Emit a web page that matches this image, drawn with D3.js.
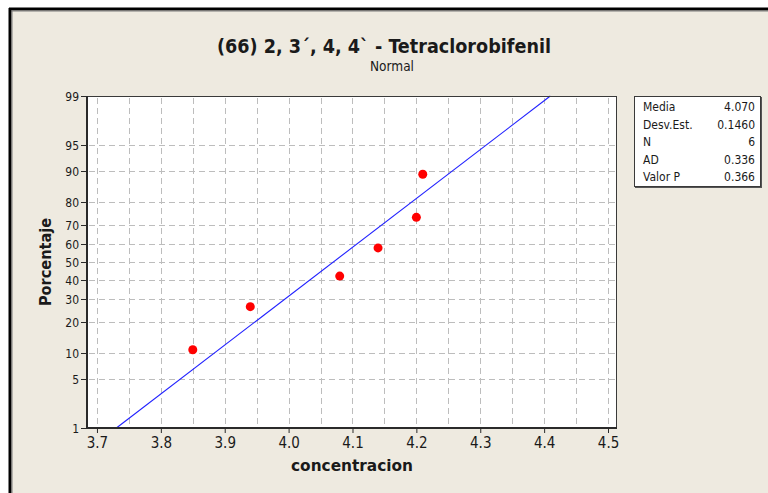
<!DOCTYPE html>
<html>
<head>
<meta charset="utf-8">
<script src="https://cdn.jsdelivr.net/npm/d3@7"></script>
<style>
  html, body { margin: 0; padding: 0; background: #ffffff; }
  svg { display: block; }
  text { font-family: "DejaVu Sans Condensed", Tahoma, "DejaVu Sans", sans-serif; fill: #1a1a1a; }
</style>
</head>
<body>
<svg id="chart" width="768" height="493"></svg>
<script>
// Observed concentrations (sorted)
const concentracion = [3.85, 3.94, 4.08, 4.14, 4.20, 4.21];

// Summary statistics shown in the side table
const statLabels = ["Media", "Desv.Est.", "N", "AD", "Valor P"];
const statValues = ["4.070", "0.1460", "6", "0.336", "0.366"];
const media = 4.070;
const desvEst = 0.1460;

// Axis tick values
const xTicks = [3.7, 3.8, 3.9, 4.0, 4.1, 4.2, 4.3, 4.4, 4.5];
const xGrid = [3.70, 3.75, 3.80, 3.85, 3.90, 3.95, 4.00, 4.05, 4.10, 4.15, 4.20, 4.25, 4.30, 4.35, 4.40, 4.45, 4.50];
const yTicks = [1, 5, 10, 20, 30, 40, 50, 60, 70, 80, 90, 95, 99];

// Inverse standard normal CDF (Acklam's rational approximation)
function probit(p) {
  const a = [-3.969683028665376e+01, 2.209460984245205e+02, -2.759285104469687e+02, 1.383577518672690e+02, -3.066479806614716e+01, 2.506628277459239e+00];
  const b = [-5.447609879822406e+01, 1.615858368580409e+02, -1.556989798598866e+02, 6.680131188771972e+01, -1.328068155288572e+01];
  const c = [-7.784894002430293e-03, -3.223964580411365e-01, -2.400758277161838e+00, -2.549732539343734e+00, 4.374664141464968e+00, 2.938163982698783e+00];
  const d = [7.784695709041462e-03, 3.224671290700398e-01, 2.445134137142996e+00, 3.754408661907416e+00];
  const pl = 0.02425, ph = 1 - pl;
  let q, r;
  if (p < pl) {
    q = Math.sqrt(-2 * Math.log(p));
    return (((((c[0]*q+c[1])*q+c[2])*q+c[3])*q+c[4])*q+c[5]) / ((((d[0]*q+d[1])*q+d[2])*q+d[3])*q+1);
  } else if (p <= ph) {
    q = p - 0.5; r = q * q;
    return (((((a[0]*r+a[1])*r+a[2])*r+a[3])*r+a[4])*r+a[5])*q / (((((b[0]*r+b[1])*r+b[2])*r+b[3])*r+b[4])*r+1);
  } else {
    q = Math.sqrt(-2 * Math.log(1 - p));
    return -(((((c[0]*q+c[1])*q+c[2])*q+c[3])*q+c[4])*q+c[5]) / ((((d[0]*q+d[1])*q+d[2])*q+d[3])*q+1);
  }
}

const svg = d3.select("#chart");
const W = 768, H = 493;

// Panel background and frame
svg.append("rect").attr("x", 0).attr("y", 0).attr("width", W).attr("height", H).attr("fill", "#ffffff");
svg.append("rect").attr("x", 10).attr("y", 9).attr("width", W - 10).attr("height", H - 9).attr("fill", "#EEEAE0");
svg.append("line").attr("x1", 9).attr("x2", W).attr("y1", 9).attr("y2", 9).attr("stroke", "#000").attr("stroke-width", 3);
svg.append("line").attr("x1", 10).attr("x2", W).attr("y1", 11).attr("y2", 11).attr("stroke", "#7a7a7a").attr("stroke-width", 1);
svg.append("line").attr("x1", 10).attr("x2", 10).attr("y1", 8).attr("y2", H).attr("stroke", "#000").attr("stroke-width", 3);
svg.append("line").attr("x1", 12).attr("x2", 12).attr("y1", 10).attr("y2", H).attr("stroke", "#7a7a7a").attr("stroke-width", 1);

// Plot area
const pLeft = 87, pRight = 616, pTop = 96, pBottom = 428;
const x = d3.scaleLinear().domain([3.6844, 4.5125]).range([pLeft, pRight]);
const zScale = d3.scaleLinear().domain([probit(0.01), probit(0.99)]).range([pBottom, pTop]);
const y = p => zScale(probit(p / 100));

svg.append("rect").attr("x", pLeft).attr("y", pTop).attr("width", pRight - pLeft).attr("height", pBottom - pTop).attr("fill", "#ffffff");

// Dashed grid
const grid = svg.append("g").attr("stroke", "#BDBDBD").attr("stroke-width", 1).attr("stroke-dasharray", "6,4");
grid.selectAll("line.v").data(xGrid).join("line")
  .attr("class", "v")
  .attr("x1", d => Math.round(x(d)) + 0.5).attr("x2", d => Math.round(x(d)) + 0.5)
  .attr("y1", pTop + 2).attr("y2", pBottom);
grid.selectAll("line.h").data(yTicks.filter(d => d > 1 && d < 99)).join("line")
  .attr("class", "h")
  .attr("x1", pLeft + 2).attr("x2", pRight)
  .attr("y1", d => Math.round(y(d)) + 0.5).attr("y2", d => Math.round(y(d)) + 0.5);

// Fitted normal line from mean and standard deviation
const pLine = [1, 99];
const line = d3.line().x(p => x(media + probit(p / 100) * desvEst)).y(p => y(p));
svg.append("path").datum(pLine).attr("d", line)
  .attr("fill", "none").attr("stroke", "#2020ff").attr("stroke-width", 1.1);

// Points at median-rank percentages
const n = concentracion.length;
const pts = concentracion.map((v, i) => ({ v, p: 100 * (i + 1 - 0.3) / (n + 0.4) }));
svg.append("g").selectAll("circle").data(pts).join("circle")
  .attr("cx", d => x(d.v)).attr("cy", d => y(d.p)).attr("r", 4.5)
  .attr("fill", "#ff0000");

// Plot border
svg.append("rect").attr("x", pLeft + 0.5).attr("y", pTop + 0.5).attr("width", pRight - pLeft).attr("height", pBottom - pTop)
  .attr("fill", "none").attr("stroke", "#3a3a3a").attr("stroke-width", 1);
svg.append("line").attr("x1", pLeft).attr("x2", pLeft).attr("y1", pTop).attr("y2", pBottom + 1).attr("stroke", "#2a2a2a").attr("stroke-width", 2);
svg.append("line").attr("x1", pLeft).attr("x2", pRight + 1).attr("y1", pBottom).attr("y2", pBottom).attr("stroke", "#2a2a2a").attr("stroke-width", 2);

// X axis
const xAxis = d3.axisBottom(x).tickValues(xTicks).tickFormat(d3.format(".1f")).tickSize(5).tickPadding(4);
const gx = svg.append("g").attr("transform", `translate(0,${pBottom})`).call(xAxis);
gx.select(".domain").remove();
gx.selectAll(".tick line").attr("stroke", "#2a2a2a");
gx.selectAll(".tick text").attr("font-size", 15).attr("fill", "#1a1a1a")
  .style("font-family", "'DejaVu Sans Condensed', Tahoma, sans-serif");

// Y axis on the normal probability scale
const gy = svg.append("g");
const yt = gy.selectAll("g").data(yTicks).join("g").attr("transform", d => `translate(0,${Math.round(y(d)) + 0.5})`);
yt.append("line").attr("x1", pLeft - 6).attr("x2", pLeft).attr("stroke", "#2a2a2a");
yt.append("text").attr("x", pLeft - 8).attr("dy", "0.35em").attr("text-anchor", "end")
  .attr("font-size", 12).text(d => d);

// Titles
svg.append("text").attr("x", 384).attr("y", 53).attr("text-anchor", "middle")
  .attr("font-size", 20).attr("font-weight", "bold")
  .attr("textLength", 334).attr("lengthAdjust", "spacingAndGlyphs")
  .text("(66) 2, 3´, 4, 4` - Tetraclorobifenil");
svg.append("text").attr("x", 392).attr("y", 71).attr("text-anchor", "middle")
  .attr("font-size", 14).attr("textLength", 44).attr("lengthAdjust", "spacingAndGlyphs").text("Normal");

svg.append("text").attr("x", 352).attr("y", 471).attr("text-anchor", "middle")
  .attr("font-size", 16).attr("font-weight", "bold")
  .attr("textLength", 122).attr("lengthAdjust", "spacingAndGlyphs").text("concentracion");
svg.append("text").attr("transform", "translate(51,262) rotate(-90)").attr("text-anchor", "middle")
  .attr("font-size", 16).attr("font-weight", "bold")
  .attr("textLength", 88).attr("lengthAdjust", "spacingAndGlyphs").text("Porcentaje");

// Statistics table
const box = svg.append("g");
box.append("rect").attr("x", 634.5).attr("y", 96.5).attr("width", 126).attr("height", 90)
  .attr("fill", "#ffffff").attr("stroke", "#3a3a3a").attr("stroke-width", 1);
box.append("line").attr("x1", 635).attr("x2", 762).attr("y1", 187.5).attr("y2", 187.5).attr("stroke", "#555");
box.append("line").attr("x1", 761.5).attr("x2", 761.5).attr("y1", 97).attr("y2", 188).attr("stroke", "#555");
const rows = box.selectAll("g").data(statLabels).join("g")
  .attr("transform", (d, i) => `translate(0,${111 + i * 17.5})`);
rows.append("text").attr("x", 643).attr("font-size", 12).text(d => d);
rows.append("text").attr("x", 755).attr("text-anchor", "end").attr("font-size", 12).text((d, i) => statValues[i]);
</script>
</body>
</html>
